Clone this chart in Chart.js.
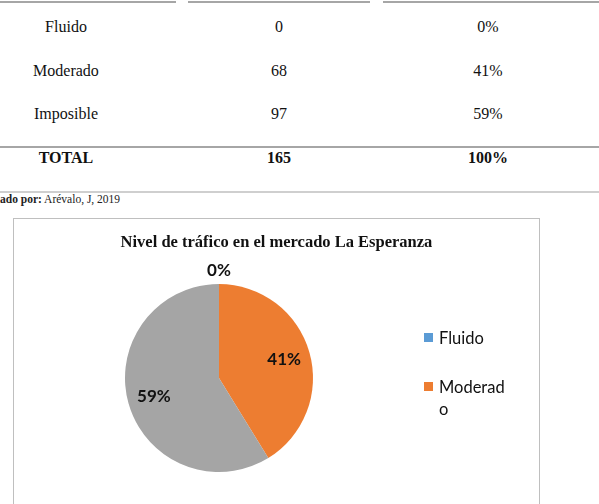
<!DOCTYPE html>
<html>
<head>
<meta charset="utf-8">
<script src="https://cdn.jsdelivr.net/npm/chart.js@4.4.1/dist/chart.umd.min.js"></script>
<style>
    body { margin: 0; width: 599px; height: 504px; overflow: hidden; background: #fff; position: relative; font-family: "Liberation Serif", serif; }
    .rule { position: absolute; height: 2px; background: #a6a6a6; }
    .cell { position: absolute; width: 160px; margin-left: -80px; text-align: center; font-size: 16px; line-height: 20px; color: #111; }
    .bold { font-weight: bold; }
    #source { position: absolute; left: 0; top: 192px; font-size: 11.5px; line-height: 14px; color: #222; }
    #box { position: absolute; left: 13px; top: 218px; width: 525px; height: 300px; border: 1px solid #bfbfbf; }
    #title { position: absolute; left: 0; width: 525px; top: 13px; text-align: center; font-weight: bold; font-size: 16.5px; line-height: 20px; color: #111; }
    #legend { position: absolute; left: 410px; top: 108px; font-family: Lato, sans-serif; font-size: 16.5px; line-height: 22px; color: #111; }
    .item { position: relative; padding-left: 15px; margin-bottom: 27px; }
    .item span.sw { position: absolute; left: 0; top: 6px; width: 9px; height: 9px; }
    .item span.tx { display: block; width: 70px; word-break: break-all; }
</style>
</head>
<body>
<div id="table"></div>
<div id="source"><b>ado por:</b> Arévalo, J, 2019</div>
<div id="box">
    <div id="title">Nivel de tráfico en el mercado La Esperanza</div>
    <canvas id="pieChart" width="524" height="286"></canvas>
    <div id="legend"></div>
</div>
<script>
const categories = ['Fluido', 'Moderado', 'Imposible'];
const counts = [0, 68, 97];
const percents = ['0%', '41%', '59%'];
const total = 165;
const totalPercent = '100%';
const colors = ['#5b9bd5', '#ed7d31', '#a5a5a5'];

// table rows, laid out like the scanned page
const table = document.getElementById('table');
const colX = [66, 279, 488];
const rowY = [17, 61, 104];
function addCell(text, x, y, bold) {
    const d = document.createElement('div');
    d.className = 'cell' + (bold ? ' bold' : '');
    d.style.left = x + 'px';
    d.style.top = y + 'px';
    d.textContent = text;
    table.appendChild(d);
}
function addRule(x1, x2, y, color) {
    const d = document.createElement('div');
    d.className = 'rule';
    d.style.left = x1 + 'px';
    d.style.width = (x2 - x1) + 'px';
    d.style.top = y + 'px';
    if (color) d.style.background = color;
    table.appendChild(d);
}
addRule(0, 176, 1);
addRule(188, 370, 1);
addRule(383, 599, 1);
categories.forEach((c, i) => {
    addCell(c, colX[0], rowY[i]);
    addCell(String(counts[i]), colX[1], rowY[i]);
    addCell(percents[i], colX[2], rowY[i]);
});
addRule(0, 599, 146);
addCell('TOTAL', colX[0], 148, true);
addCell(String(total), colX[1], 148, true);
addCell(totalPercent, colX[2], 148, true);
addRule(0, 599, 191, '#cfcfcf');

// legend (the original clips after the second entry)
const legend = document.getElementById('legend');
categories.slice(0, 2).forEach((c, i) => {
    const it = document.createElement('div');
    it.className = 'item';
    it.innerHTML = '<span class="sw" style="background:' + colors[i] + '"></span><span class="tx">' + c + '</span>';
    legend.appendChild(it);
});

const pieLabels = {
    id: 'pieLabels',
    afterDatasetsDraw(chart) {
        const ctx = chart.ctx;
        const meta = chart.getDatasetMeta(0);
        ctx.save();
        ctx.font = 'bold 17px Lato, sans-serif';
        ctx.fillStyle = '#111';
        ctx.textAlign = 'center';
        ctx.textBaseline = 'middle';
        meta.data.forEach((arc, i) => {
            const p = arc.getProps(['x', 'y', 'startAngle', 'endAngle', 'outerRadius'], true);
            const mid = (p.startAngle + p.endAngle) / 2;
            const r = counts[i] === 0 ? p.outerRadius * 1.14 : p.outerRadius * 0.72;
            ctx.fillText(percents[i], p.x + Math.cos(mid) * r, p.y + Math.sin(mid) * r);
        });
        ctx.restore();
    }
};

const ctxPie = document.getElementById('pieChart').getContext('2d');
const pieChart = new Chart(ctxPie, {
    type: 'pie',
    data: {
        labels: categories,
        datasets: [{
            data: counts,
            backgroundColor: colors,
            borderWidth: 0
        }]
    },
    options: {
        responsive: false,
        animation: false,
        layout: {
            padding: { left: 111, right: 225, top: 65, bottom: 33 }
        },
        plugins: {
            legend: { display: false },
            tooltip: { enabled: false }
        }
    },
    plugins: [pieLabels]
});
</script>
</body>
</html>
